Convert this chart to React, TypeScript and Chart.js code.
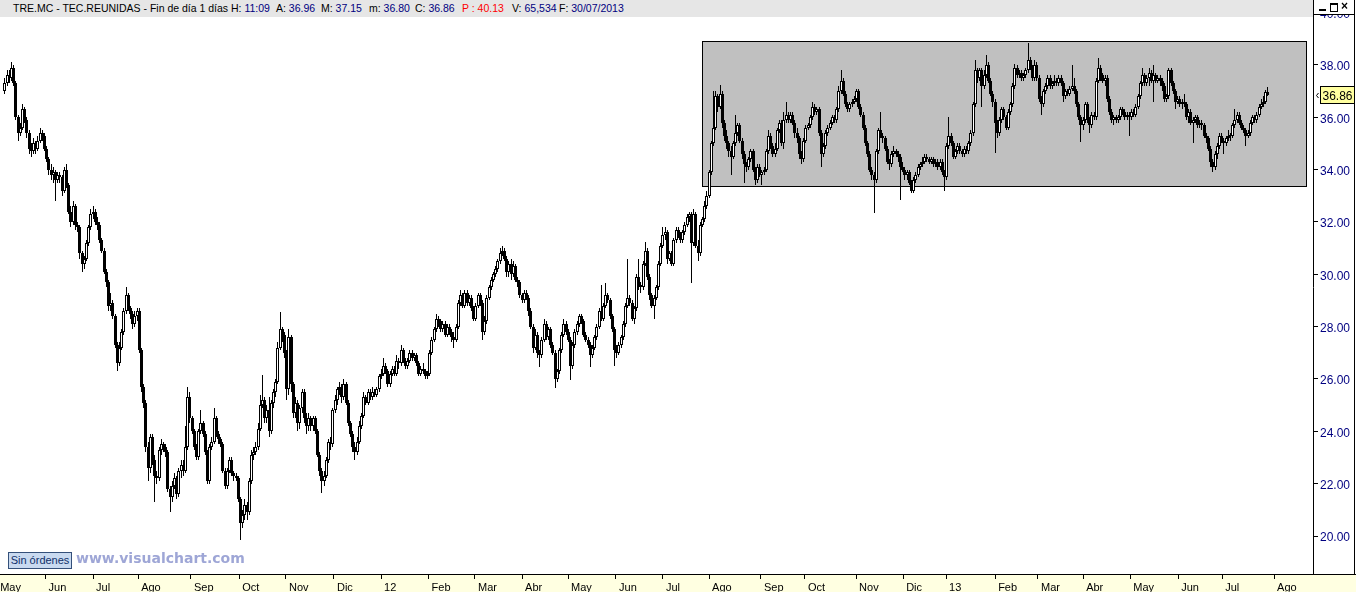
import { useEffect, useRef } from "react";
import { Chart, registerables } from "chart.js";

Chart.register(...registerables);

// ---------- DATA (daily candles, TRE.MC, May 2011 - 30/07/2013) ----------
const firstOpen = 37.0;

const closes = [
  37.3, 37.6, 37.5, 37.9, 37.3, 36.0, 35.4, 35.6, 36.3, 35.9,
  35.4, 34.8, 34.7, 35.0, 34.8, 35.1, 35.4, 35.3, 34.8, 34.4,
  34.0, 33.8, 33.9, 33.6, 33.8, 33.7, 33.2, 34.0, 33.4, 32.4,
  32.0, 32.6, 31.9, 31.8, 30.8, 30.4, 30.6, 31.2, 31.8, 32.3,
  32.4, 32.0, 31.9, 31.3, 30.9, 30.1, 29.7, 28.8, 28.9, 28.4,
  27.3, 26.6, 27.2, 27.8, 28.6, 29.2, 28.7, 28.5, 28.1, 28.4,
  28.6, 27.1, 25.7, 25.1, 23.4, 22.6, 23.8, 22.9, 22.3, 22.2,
  23.3, 23.5, 23.4, 23.2, 21.8, 21.5, 21.9, 22.2, 21.6, 22.5,
  22.7, 22.5, 23.4, 25.3, 24.5, 24.0, 23.4, 23.0, 24.0, 24.3,
  23.9, 23.2, 22.1, 23.4, 23.6, 24.5, 23.9, 23.7, 23.5, 22.5,
  21.9, 22.5, 22.9, 22.4, 22.3, 22.2, 21.4, 20.5, 20.8, 21.2,
  20.9, 22.1, 23.1, 23.2, 23.4, 24.1, 25.0, 25.2, 24.5, 24.8,
  24.0, 25.1, 25.5, 25.9, 27.2, 27.9, 27.7, 27.0, 25.6, 27.6,
  25.8, 24.7, 25.1, 24.3, 24.9, 25.5, 24.5, 24.2, 24.5, 24.2,
  24.5, 24.0, 23.1, 22.5, 22.1, 22.3, 22.9, 23.6, 23.5, 24.8,
  25.2, 25.6, 25.7, 25.3, 25.8, 25.1, 24.3, 23.9, 23.4, 23.2,
  23.6, 24.2, 24.6, 25.3, 25.1, 25.5, 25.3, 25.5, 25.4, 25.6,
  26.1, 26.2, 26.5, 26.3, 25.8, 26.2, 26.4, 26.2, 26.7, 26.6,
  27.1, 26.7, 26.5, 26.7, 27.0, 26.8, 26.9, 26.6, 26.2, 26.4,
  26.3, 26.1, 26.2, 27.0, 27.5, 27.9, 28.3, 28.2, 27.9, 28.1,
  27.7, 28.0, 27.8, 27.6, 27.5, 28.0, 28.9, 29.2, 28.8, 29.3,
  28.9, 29.1, 28.7, 28.3, 28.8, 29.2, 28.9, 27.8, 28.2, 29.1,
  29.5, 29.8, 30.0, 30.2, 30.5, 30.8, 30.9, 30.6, 30.1, 30.4,
  30.0, 30.3, 29.8, 29.7, 29.2, 29.0, 29.3, 29.1, 28.6, 28.0,
  27.2, 27.7, 27.0, 26.9, 27.5, 28.1, 27.6, 27.9, 27.3, 27.0,
  26.0, 26.3, 27.1, 27.7, 28.1, 27.8, 27.5, 26.5, 27.3, 27.8,
  28.1, 28.4, 28.2, 27.7, 27.5, 27.3, 26.9, 27.2, 27.6, 28.0,
  28.6, 28.3, 28.8, 29.2, 29.0, 28.4, 27.9, 27.1, 27.0, 27.3,
  27.6, 28.1, 28.8, 29.1, 28.9, 28.3, 28.7, 29.9, 29.6, 29.5,
  30.4, 30.9, 29.9, 29.2, 28.8, 29.1, 29.5, 30.4, 31.1, 31.5,
  31.6, 30.6, 30.8, 30.4, 31.3, 31.7, 31.5, 31.3, 31.6, 31.9,
  32.2, 32.3, 31.2, 32.3, 31.1, 30.8, 31.9, 32.1, 32.6, 33.0,
  33.9, 35.0, 35.6, 36.8, 36.4, 36.9, 35.8, 35.3, 35.0, 34.7,
  34.5, 35.0, 35.4, 35.7, 35.1, 34.6, 34.2, 34.1, 34.4, 34.7,
  34.0, 33.6, 34.1, 33.8, 33.9, 34.0, 34.7, 35.3, 34.9, 34.6,
  34.8, 35.5, 35.8, 35.0, 35.9, 36.1, 35.9, 36.1, 35.8, 35.4,
  35.2, 34.6, 34.4, 35.1, 35.6, 35.7, 36.0, 36.4, 36.2, 36.3,
  35.4, 34.6, 34.9, 35.4, 35.6, 35.8, 36.0, 35.9, 36.3, 37.0,
  37.4, 36.9, 36.5, 36.3, 36.5, 36.6, 36.7, 37.0, 36.4, 36.1,
  35.6, 35.0, 34.6, 34.0, 33.8, 33.6, 34.7, 35.5, 35.3, 35.2,
  34.8, 34.3, 34.2, 34.6, 34.7, 34.6, 34.5, 34.1, 34.0, 33.8,
  33.9, 33.5, 33.2, 33.6, 33.8, 34.1, 34.2, 34.3, 34.5, 34.4,
  34.3, 34.4, 34.2, 34.3, 34.1, 34.3, 33.9, 33.7, 34.9, 35.3,
  35.0, 34.5, 34.7, 34.9, 34.7, 34.6, 34.8, 34.7, 35.0, 35.4,
  36.5, 37.8, 37.5, 37.8, 37.2, 37.6, 38.0, 37.4, 36.9, 36.6,
  35.8, 35.4, 35.9, 36.3, 36.0, 35.6, 36.2, 36.5, 37.2, 37.9,
  37.6, 37.7, 37.5, 37.6, 37.8, 38.2, 37.9, 37.5, 38.0, 37.5,
  36.7, 36.5, 37.0, 37.2, 37.5, 37.2, 37.3, 37.4, 37.3, 37.5,
  37.3, 36.8, 37.0, 36.9, 37.1, 37.2, 37.0, 36.5, 36.0, 35.7,
  35.9, 36.5, 35.9, 35.7, 36.1, 36.0, 37.4, 37.9, 37.6, 37.4,
  37.5, 36.7, 36.2, 35.9, 36.0, 35.9, 36.0, 36.3, 36.2, 36.0,
  36.1, 36.0, 36.2, 36.1, 36.4, 36.8, 37.3, 37.6, 37.3, 37.5,
  37.7, 37.4, 37.6, 37.4, 37.5, 37.4, 37.2, 36.7, 36.8, 37.8,
  37.3, 37.0, 36.6, 36.7, 36.5, 36.6, 36.5, 36.0, 36.2, 35.8,
  35.9, 36.0, 35.7, 35.8, 35.7, 35.3, 35.2, 34.8, 34.3, 34.1,
  34.6, 34.9, 35.3, 35.1, 35.0, 35.2, 35.3, 35.3, 35.7, 35.9,
  36.1, 35.8, 35.6, 35.5, 35.3, 35.4, 35.8, 36.0, 35.9, 36.1,
  36.4, 36.5, 36.6, 36.96, 36.86,
];

const highs = [
  37.5, 37.8, 37.8, 38.1, 38.0, 37.4, 36.1, 35.8, 36.5, 36.4,
  36.0, 35.5, 35.0, 35.2, 35.1, 35.3, 35.6, 35.5, 35.4, 34.9,
  34.5, 34.2, 34.1, 34.0, 33.9, 33.9, 33.8, 34.1, 34.2, 33.5,
  32.6, 32.8, 32.7, 32.0, 31.9, 30.9, 30.7, 31.3, 31.9, 32.5,
  32.6, 32.5, 32.2, 32.0, 31.4, 31.0, 30.2, 29.8, 29.3, 29.0,
  28.5, 27.4, 27.4, 27.9, 28.7, 29.5, 29.3, 28.8, 28.6, 28.6,
  28.7, 28.7, 27.2, 25.8, 25.2, 23.6, 23.9, 23.9, 23.1, 22.5,
  23.4, 23.7, 23.6, 23.5, 23.3, 21.9, 22.1, 22.4, 22.3, 22.6,
  22.9, 22.9, 24.2, 25.7, 25.5, 24.6, 24.1, 23.5, 24.1, 24.8,
  24.4, 24.0, 23.3, 23.5, 23.8, 24.9, 24.6, 24.0, 23.8, 23.6,
  22.6, 22.6, 23.0, 23.0, 22.5, 22.4, 22.3, 21.5, 21.0, 21.4,
  21.3, 22.2, 23.3, 23.4, 23.6, 24.3, 25.4, 26.15, 25.3, 25.0,
  25.3, 25.2, 25.6, 26.0, 27.4, 28.55, 28.0, 27.8, 27.1, 27.9,
  27.7, 25.9, 25.3, 25.2, 25.0, 25.6, 25.6, 24.7, 24.7, 24.6,
  24.6, 24.6, 24.1, 23.2, 22.6, 22.5, 23.0, 23.7, 23.8, 24.9,
  25.4, 25.7, 25.9, 25.8, 26.0, 25.9, 25.2, 24.4, 24.0, 23.6,
  23.8, 24.4, 24.7, 25.5, 25.4, 25.6, 25.6, 25.7, 25.6, 25.7,
  26.2, 26.4, 26.8, 26.6, 26.4, 26.3, 26.5, 26.5, 26.9, 26.8,
  27.3, 27.2, 26.8, 26.8, 27.1, 27.1, 27.0, 27.0, 26.7, 26.5,
  26.6, 26.4, 26.3, 27.1, 27.6, 28.0, 28.5, 28.4, 28.3, 28.2,
  28.2, 28.1, 28.1, 27.9, 27.8, 28.1, 29.0, 29.4, 29.3, 29.4,
  29.4, 29.2, 29.2, 28.8, 28.9, 29.3, 29.3, 29.0, 28.4, 29.2,
  29.6, 29.9, 30.1, 30.3, 30.6, 31.0, 31.1, 31.0, 30.7, 30.5,
  30.6, 30.5, 30.4, 29.9, 29.8, 29.3, 29.4, 29.4, 29.2, 28.7,
  28.1, 27.9, 27.8, 27.1, 27.6, 28.3, 28.2, 28.0, 28.0, 27.4,
  27.1, 26.4, 27.2, 27.8, 28.3, 28.2, 27.9, 27.6, 27.4, 27.9,
  28.2, 28.5, 28.5, 28.3, 27.8, 27.6, 27.4, 27.3, 27.7, 28.1,
  28.7, 29.6, 28.9, 29.65, 29.3, 29.1, 28.5, 28.0, 27.3, 27.4,
  27.7, 28.2, 28.9, 30.6, 29.2, 29.0, 28.8, 30.0, 30.6, 29.7,
  30.5, 31.25, 31.0, 30.0, 29.3, 29.2, 29.6, 30.5, 31.2, 31.8,
  31.8, 31.7, 30.9, 30.9, 31.4, 31.8, 31.8, 31.6, 31.7, 32.0,
  32.3, 32.4, 32.4, 32.5, 32.4, 31.3, 32.0, 32.2, 32.8, 33.2,
  34.0, 35.1, 37.0, 37.0, 36.9, 37.25, 37.0, 35.9, 35.5, 35.1,
  34.9, 35.1, 36.1, 35.8, 35.8, 35.2, 34.7, 34.3, 34.5, 34.8,
  34.8, 34.1, 34.2, 34.2, 34.0, 34.1, 34.8, 35.5, 35.4, 35.0,
  35.0, 35.6, 35.9, 35.9, 36.2, 36.6, 36.2, 36.2, 36.2, 35.9,
  35.6, 35.3, 34.7, 35.2, 35.7, 35.8, 36.1, 36.6, 36.5, 36.4,
  36.4, 35.5, 35.0, 35.5, 35.7, 35.9, 36.1, 36.1, 36.4, 37.2,
  37.8, 37.5, 37.0, 36.6, 36.6, 36.7, 36.8, 37.1, 37.1, 36.5,
  36.2, 35.7, 35.1, 34.7, 34.1, 33.9, 34.8, 35.6, 36.2, 35.4,
  35.3, 34.9, 34.4, 34.7, 34.9, 34.8, 34.7, 34.6, 34.3, 34.1,
  34.0, 34.0, 33.6, 33.7, 33.9, 34.2, 34.3, 34.5, 34.6, 34.6,
  34.5, 34.5, 34.5, 34.4, 34.4, 34.4, 34.4, 34.0, 35.0, 36.0,
  35.4, 35.1, 34.8, 35.0, 35.0, 34.8, 34.9, 34.9, 35.1, 35.5,
  36.6, 38.2, 37.9, 37.9, 37.9, 37.8, 38.4, 38.1, 37.5, 37.0,
  36.7, 35.9, 36.0, 36.4, 36.4, 36.1, 36.3, 36.6, 37.3, 38.05,
  38.0, 37.8, 37.8, 37.7, 37.9, 38.85, 38.3, 38.0, 38.2, 38.1,
  37.6, 36.8, 37.1, 37.3, 37.6, 37.6, 37.4, 37.6, 37.5, 37.6,
  37.6, 37.4, 37.1, 37.1, 37.2, 38.0, 37.5, 37.1, 36.6, 36.1,
  36.0, 36.6, 36.6, 36.0, 36.2, 36.2, 37.5, 38.25, 38.0, 37.7,
  37.6, 37.6, 36.8, 36.3, 36.1, 36.1, 36.1, 36.4, 36.4, 36.3,
  36.2, 36.2, 36.3, 36.3, 36.5, 36.9, 37.4, 37.9, 37.7, 37.6,
  37.9, 37.8, 38.0, 37.7, 37.6, 37.6, 37.5, 37.3, 36.9, 37.9,
  37.9, 37.4, 37.1, 36.8, 36.8, 36.7, 36.9, 36.6, 36.3, 36.3,
  36.0, 36.1, 36.1, 35.9, 35.9, 35.8, 35.4, 35.3, 34.9, 34.4,
  34.7, 35.0, 35.4, 35.4, 35.2, 35.3, 35.5, 35.4, 35.8, 36.3,
  36.2, 36.2, 35.9, 35.7, 35.6, 35.5, 35.9, 36.1, 36.1, 36.2,
  36.5, 36.7, 36.8, 37.05, 37.15,
];

const lows = [
  36.9, 37.2, 37.3, 37.4, 37.2, 35.9, 35.1, 35.3, 35.5, 35.8,
  35.2, 34.6, 34.5, 34.6, 34.6, 34.7, 35.0, 35.1, 34.7, 34.3,
  33.8, 33.6, 33.5, 32.8, 33.5, 33.5, 33.0, 33.1, 33.3, 32.3,
  31.8, 31.9, 31.7, 31.6, 30.6, 30.1, 30.2, 30.5, 31.1, 31.7,
  32.1, 31.9, 31.7, 31.2, 30.8, 30.0, 29.5, 28.6, 28.6, 28.3,
  27.2, 26.3, 26.5, 27.1, 27.7, 28.5, 28.6, 28.3, 27.9, 28.0,
  28.2, 27.0, 25.5, 24.9, 23.2, 22.1, 22.4, 22.7, 21.3, 22.0,
  22.1, 23.1, 23.2, 23.0, 21.7, 20.9, 21.3, 21.8, 21.4, 21.5,
  22.2, 22.3, 22.4, 23.3, 24.3, 23.9, 23.3, 22.9, 22.9, 23.9,
  23.8, 23.1, 22.0, 22.0, 23.3, 23.5, 23.8, 23.5, 23.4, 22.4,
  21.8, 21.8, 22.4, 22.3, 22.1, 22.1, 21.3, 19.85, 20.3, 20.6,
  20.6, 20.8, 22.0, 22.9, 23.1, 23.3, 24.0, 24.9, 24.3, 24.3,
  23.8, 23.9, 24.9, 25.3, 25.8, 27.1, 27.4, 26.8, 25.2, 25.4,
  25.5, 24.5, 24.5, 24.0, 24.1, 24.7, 24.3, 23.9, 24.0, 24.0,
  24.0, 23.9, 23.0, 22.3, 21.65, 21.9, 22.2, 22.8, 23.3, 23.4,
  24.7, 25.0, 25.4, 25.1, 25.2, 25.0, 24.2, 23.8, 23.2, 22.9,
  23.1, 23.5, 24.1, 24.5, 25.0, 25.0, 25.2, 25.2, 25.3, 25.3,
  25.5, 26.0, 26.1, 26.2, 25.7, 25.7, 26.1, 26.1, 26.1, 26.4,
  26.5, 26.6, 26.4, 26.4, 26.6, 26.7, 26.7, 26.5, 26.1, 26.1,
  26.2, 26.0, 26.0, 26.1, 26.9, 27.4, 27.8, 28.0, 27.8, 27.8,
  27.6, 27.6, 27.7, 27.4, 27.2, 27.4, 27.9, 28.8, 28.7, 28.7,
  28.8, 28.8, 28.6, 28.2, 28.2, 28.7, 28.8, 27.5, 27.7, 28.1,
  29.0, 29.4, 29.7, 29.9, 30.1, 30.4, 30.7, 30.5, 29.9, 29.9,
  29.8, 29.9, 29.7, 29.5, 29.1, 28.9, 28.9, 29.0, 28.4, 27.9,
  27.0, 27.1, 26.8, 26.45, 26.8, 27.4, 27.5, 27.5, 27.2, 26.9,
  25.65, 25.9, 26.2, 27.0, 27.6, 27.7, 27.4, 25.95, 26.4, 27.2,
  27.7, 28.0, 28.1, 27.6, 27.4, 27.2, 26.45, 26.8, 27.1, 27.5,
  27.9, 28.2, 28.2, 28.7, 28.9, 28.3, 27.8, 26.5, 26.8, 26.9,
  27.2, 27.5, 28.0, 28.7, 28.8, 28.2, 28.1, 28.6, 29.4, 29.3,
  29.4, 30.3, 29.8, 29.0, 28.7, 28.3, 29.0, 29.4, 30.3, 31.0,
  31.3, 30.4, 30.5, 30.3, 30.3, 31.2, 31.4, 31.2, 31.2, 31.5,
  31.8, 32.0, 29.65, 31.1, 31.0, 30.5, 30.7, 31.8, 32.0, 32.5,
  32.9, 33.8, 34.9, 35.5, 36.2, 36.3, 35.6, 35.1, 34.8, 34.5,
  33.8, 34.4, 34.9, 35.3, 35.0, 34.4, 33.5, 33.9, 34.0, 34.3,
  33.9, 33.4, 33.5, 33.7, 33.4, 33.8, 33.9, 34.6, 34.8, 34.5,
  34.5, 34.7, 35.4, 34.9, 34.8, 35.8, 35.8, 35.8, 35.7, 35.2,
  35.0, 34.4, 34.2, 34.3, 35.0, 35.5, 35.6, 35.9, 36.1, 36.1,
  35.3, 34.1, 34.5, 34.8, 35.3, 35.5, 35.7, 35.8, 35.8, 36.2,
  36.9, 36.8, 36.4, 36.2, 36.2, 36.4, 36.5, 36.6, 36.3, 36.0,
  35.5, 34.9, 34.5, 33.9, 33.6, 32.35, 33.5, 34.6, 35.2, 35.0,
  34.7, 34.2, 34.0, 34.1, 34.5, 34.5, 34.3, 32.85, 33.9, 33.6,
  33.6, 33.4, 33.1, 33.1, 33.5, 33.7, 34.0, 34.1, 34.2, 34.3,
  34.2, 34.2, 34.1, 34.1, 34.0, 34.0, 33.8, 33.2, 33.6, 34.8,
  34.9, 34.4, 34.4, 34.6, 34.6, 34.5, 34.5, 34.6, 34.6, 34.9,
  35.3, 36.4, 37.3, 37.4, 36.4, 37.1, 37.5, 37.3, 36.8, 36.4,
  34.65, 35.2, 35.3, 35.8, 35.9, 35.5, 35.5, 36.1, 36.4, 37.1,
  37.5, 37.5, 37.4, 37.4, 37.5, 37.7, 37.8, 37.4, 37.4, 37.4,
  36.6, 36.1, 36.4, 36.9, 37.1, 37.1, 37.1, 37.2, 37.2, 37.2,
  37.2, 36.6, 36.7, 36.8, 36.8, 37.0, 36.9, 36.4, 35.9, 35.05,
  35.5, 35.8, 35.8, 35.4, 35.6, 35.9, 35.9, 37.3, 37.4, 37.3,
  37.2, 36.6, 36.1, 35.8, 35.7, 35.8, 35.8, 35.9, 36.1, 35.9,
  35.9, 35.3, 35.9, 36.0, 36.0, 36.3, 36.7, 37.2, 37.2, 37.2,
  37.2, 37.3, 36.6, 37.3, 37.3, 37.2, 37.0, 36.6, 36.6, 36.7,
  37.2, 36.9, 36.3, 36.5, 36.4, 36.3, 36.4, 35.9, 35.8, 35.7,
  35.0, 35.8, 35.6, 35.6, 35.5, 35.2, 35.0, 34.7, 34.1, 33.9,
  34.0, 34.4, 34.8, 35.0, 34.6, 34.9, 35.1, 35.1, 35.2, 35.6,
  35.8, 35.7, 35.5, 35.4, 34.9, 35.2, 35.3, 35.7, 35.8, 35.8,
  36.0, 36.3, 36.4, 36.5, 36.80,
];

// month tick labels and their positions (in trading-day index units)
const monthLabels = [
  "May", "Jun", "Jul", "Ago", "Sep", "Oct", "Nov", "Dic", "12", "Feb", "Mar", "Abr", "May", "Jun",
  "Jul", "Ago", "Sep", "Oct", "Nov", "Dic", "13", "Feb", "Mar", "Abr", "May", "Jun", "Jul", "Ago",
];
const monthTicks = [
  -3.6, 18.4, 40.0, 60.5, 84.5, 106.4, 127.7, 149.5, 170.9, 192.5, 213.6, 235.0, 255.9, 277.7,
  299.0, 320.0, 343.6, 363.6, 386.8, 408.2, 427.7, 450.0, 469.5, 490.0, 511.4, 533.2, 553.2, 576.8,
];

// drawn range rectangle (index from/to, price low/high)
const rangeFrom = 316.8;
const rangeTo = 591.4;
const rangeLow = 33.375;
const rangeHigh = 38.916;

// header quote
const headerTitle = "TRE.MC - TEC.REUNIDAS - Fin de día 1 días";
const headerHour = "11:09";
const headerOpen = "36.96";
const headerHigh = "37.15";
const headerLow = "36.80";
const headerClose = "36.86";
const headerPrev = "40.13";
const headerVolume = "65,534";
const headerDate = "30/07/2013";

const FONT = "'Liberation Sans', Arial, sans-serif";

const decorPlugin: any = {
  id: "decor",
  beforeDraw(chart: any) {
    const { ctx, width, height, chartArea } = chart;
    ctx.save();
    ctx.fillStyle = "#ffffff";
    ctx.fillRect(0, 0, width, height);
    ctx.fillStyle = "#ffffe1";
    ctx.fillRect(0, chartArea.bottom, width, height - chartArea.bottom);
    ctx.restore();
  },
  afterDatasetsUpdate(chart: any) {
    chart.data.datasets.forEach((_: any, di: number) => {
      const meta = chart.getDatasetMeta(di);
      meta.data.forEach((el: any) => {
        el.x = Math.floor(el.x) + 0.5;
        let y = Math.round(el.y);
        let b = Math.round(el.base);
        if (y === b) b = y + 1;
        el.y = y;
        el.base = b;
      });
    });
  },
  beforeDatasetsDraw(chart: any) {
    const { ctx } = chart;
    const xs = chart.scales.x;
    const ys = chart.scales.y;
    const l = Math.round(xs.getPixelForValue(rangeFrom)) + 0.5;
    const r = Math.round(xs.getPixelForValue(rangeTo)) + 0.5;
    const t = Math.round(ys.getPixelForValue(rangeHigh)) + 0.5;
    const b = Math.round(ys.getPixelForValue(rangeLow)) + 0.5;
    ctx.save();
    ctx.fillStyle = "#c0c0c0";
    ctx.fillRect(l, t, r - l, b - t);
    ctx.strokeStyle = "#000000";
    ctx.lineWidth = 1;
    ctx.strokeRect(l, t, r - l, b - t);
    ctx.restore();
  },
  afterDraw(chart: any) {
    const { ctx, width, chartArea } = chart;
    const ys = chart.scales.y;
    ctx.save();
    ctx.strokeStyle = "#000000";
    ctx.lineWidth = 1;
    ctx.beginPath();
    ctx.moveTo(0, chartArea.bottom + 0.5);
    ctx.lineTo(width, chartArea.bottom + 0.5);
    ctx.moveTo(width - 1.5, 0);
    ctx.lineTo(width - 1.5, chartArea.bottom);
    ctx.stroke();

    // last price tag
    const last = closes[closes.length - 1];
    const py = Math.round(ys.getPixelForValue(last));
    const bx = chartArea.right + 7.5;
    ctx.fillStyle = "#ffffa0";
    ctx.fillRect(bx, py - 8.5, 34, 17);
    ctx.strokeRect(bx, py - 8.5, 34, 17);
    ctx.fillStyle = "#000000";
    ctx.font = "12px " + FONT;
    ctx.textBaseline = "middle";
    ctx.textAlign = "left";
    ctx.fillText(last.toFixed(2), bx + 2, py + 1.5);
    ctx.beginPath();
    ctx.moveTo(chartArea.right + 5.5, py - 2);
    ctx.lineTo(chartArea.right + 3.5, py + 0.5);
    ctx.lineTo(chartArea.right + 5.5, py + 3);
    ctx.stroke();
    ctx.restore();
  },
};

export default function App() {
  const ref = useRef<HTMLCanvasElement>(null);

  useEffect(() => {
    const opens = closes.map((c, i) => (i === 0 ? firstOpen : closes[i - 1]));
    const bodies = closes.map((c, i) => ({ x: i, y: [Math.min(opens[i], c), Math.max(opens[i], c)] }));
    const wicks = closes.map((c, i) => ({ x: i, y: [lows[i], highs[i]] }));
    const bodyColors = closes.map((c, i) => (c >= opens[i] ? "#ffffff" : "#000000"));

    Chart.defaults.font.family = FONT;

    const chart = new Chart(ref.current as HTMLCanvasElement, {
      type: "bar",
      data: {
        datasets: [
          {
            data: bodies as any,
            backgroundColor: bodyColors,
            borderColor: "#000000",
            borderWidth: 1,
            borderSkipped: false,
            barThickness: 3,
            minBarLength: 1,
            grouped: false,
            inflateAmount: 0,
          } as any,
          {
            data: wicks as any,
            backgroundColor: "#000000",
            borderWidth: 0,
            barThickness: 1,
            grouped: false,
            inflateAmount: 0,
          } as any,
        ],
      },
      options: {
        animation: false,
        responsive: false,
        devicePixelRatio: 1,
        layout: { padding: 0 },
        plugins: { legend: { display: false }, tooltip: { enabled: false } },
        scales: {
          x: {
            type: "linear",
            min: -2.27,
            max: 594.5,
            offset: false,
            afterBuildTicks: (axis: any) => {
              axis.ticks = monthTicks.map((v) => ({ value: v }));
            },
            afterFit: (axis: any) => {
              axis.height = 18;
              axis.paddingLeft = 0;
              axis.paddingRight = 0;
            },
            ticks: {
              autoSkip: false,
              maxRotation: 0,
              minRotation: 0,
              align: "start",
              padding: 2,
              color: "#000000",
              font: { size: 11, family: FONT },
              callback: (_v: any, i: number) => " " + monthLabels[i],
            },
            grid: { display: true, drawOnChartArea: false, drawTicks: true, tickLength: 5, color: "#000000", offset: false },
            border: { display: true, color: "#000000" },
          } as any,
          y: {
            type: "linear",
            position: "right",
            min: 18.548,
            max: 40.483,
            afterFit: (axis: any) => {
              axis.width = 43;
              axis.paddingTop = 0;
              axis.paddingBottom = 0;
            },
            ticks: {
              stepSize: 2,
              includeBounds: false,
              padding: 2,
              labelOffset: 2,
              color: "#000080",
              font: { size: 12, family: FONT },
              callback: (v: any) => Number(v).toFixed(2),
            },
            grid: { drawOnChartArea: false, drawTicks: true, tickLength: 5, color: "#000000" },
            border: { display: true, color: "#000000" },
          } as any,
        },
      },
      plugins: [decorPlugin],
    });
    return () => chart.destroy();
  }, []);

  const navy = "#000080";
  const seg = (left: number, children: any) => (
    <span style={{ position: "absolute", left, top: 2, whiteSpace: "pre" }}>{children}</span>
  );

  return (
    <div style={{ position: "fixed", left: 0, top: 0, width: 1356, height: 592, overflow: "hidden", background: "#fff" }}>
      <canvas ref={ref} width={1356} height={592} style={{ position: "absolute", left: 0, top: 0, width: 1356, height: 592 }} />
      <div
        style={{
          position: "absolute", left: 0, top: 0, width: 1313, height: 17, background: "#e6e6e6",
          fontFamily: FONT, fontSize: 10.5, lineHeight: "13px", color: "#000",
        }}
      >
        {seg(13, headerTitle)}
        {seg(231, <>H: <span style={{ color: navy }}>{headerHour}</span></>)}
        {seg(276, <>A: <span style={{ color: navy }}>{headerOpen}</span></>)}
        {seg(321, <>M: <span style={{ color: navy }}>{headerHigh}</span></>)}
        {seg(369, <>m: <span style={{ color: navy }}>{headerLow}</span></>)}
        {seg(415, <>C: <span style={{ color: navy }}>{headerClose}</span></>)}
        {seg(462, <span style={{ color: "#ff0000" }}>P : {headerPrev}</span>)}
        {seg(512, <>V: <span style={{ color: navy }}>{headerVolume}</span></>)}
        {seg(559, <>F: <span style={{ color: navy }}>{headerDate}</span></>)}
      </div>
      <div
        style={{
          position: "absolute", left: 1314, top: 0, width: 40, height: 14, background: "#fff",
          borderBottom: "1px solid #000",
        }}
      >
        <span style={{ position: "absolute", left: 5, top: 9, width: 7, height: 2, background: "#000" }} />
        <span style={{ position: "absolute", left: 16, top: 3, width: 6, height: 6, border: "1px solid #000", borderTopWidth: 2 }} />
        <span
          style={{
            position: "absolute", left: 27, top: 0, fontFamily: FONT, fontSize: 12, lineHeight: "13px",
            fontWeight: "bold", color: "#000",
          }}
        >
          ×
        </span>
      </div>
      <div
        style={{
          position: "absolute", left: 8, top: 552, width: 62, height: 15, background: "#c9daf0",
          border: "1px solid #34507a", fontFamily: FONT, fontSize: 11, lineHeight: "15px",
          color: "#10306a", textAlign: "center", whiteSpace: "nowrap",
        }}
      >
        Sin órdenes
      </div>
      <div
        style={{
          position: "absolute", left: 76, top: 550, fontFamily: "'DejaVu Sans', Verdana, sans-serif",
          fontWeight: "bold", fontSize: 14, lineHeight: "17px", color: "#9ea6d6", whiteSpace: "nowrap",
        }}
      >
        www.visualchart.com
      </div>
    </div>
  );
}
